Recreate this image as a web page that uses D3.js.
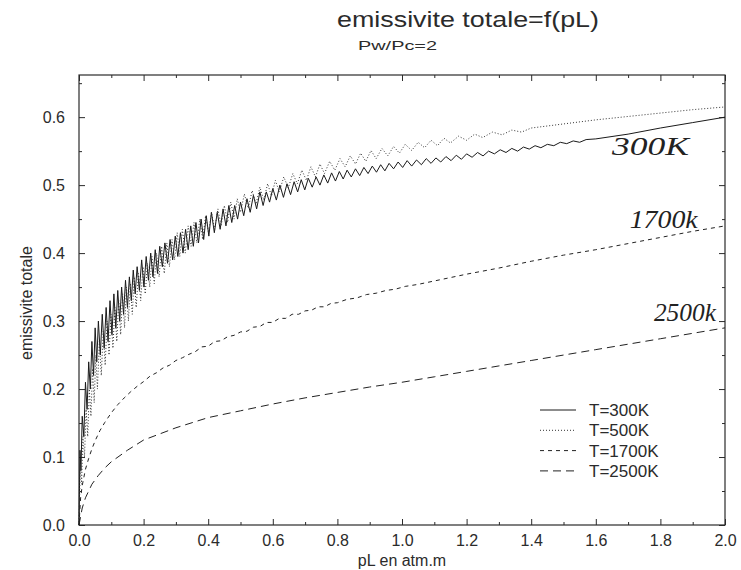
<!DOCTYPE html>
<html>
<head>
<meta charset="utf-8">
<script src="https://cdn.jsdelivr.net/npm/d3@7"></script>
<style>
  body { margin: 0; background: #fff; }
  svg { display: block; font-family: "Liberation Sans", Arial, sans-serif; }
</style>
</head>
<body>
<svg id="chart" width="741" height="570"></svg>
<script>
const xTicks = [0, 0.2, 0.4, 0.6, 0.8, 1.0, 1.2, 1.4, 1.6, 1.8, 2.0];
const xMinor = [0.1, 0.3, 0.5, 0.7, 0.9, 1.1, 1.3, 1.5, 1.7, 1.9];
const yTicks = [0, 0.1, 0.2, 0.3, 0.4, 0.5, 0.6];
const yMinor = [0.05, 0.15, 0.25, 0.35, 0.45, 0.55, 0.65];
const legendLabels = ["T=300K", "T=500K", "T=1700K", "T=2500K"];
const notes = ["300K", "1700k", "2500k"];

// T=300K, solid line (strong oscillations up to pL ~ 1.6)
const t300 = [
  [0,0],[0.003,0.11],[0.006,0.08],[0.010,0.16],[0.015,0.13],[0.020,0.21],[0.025,0.17],[0.030,0.24],
  [0.035,0.20],[0.040,0.27],[0.045,0.22],[0.050,0.29],[0.055,0.24],[0.060,0.30],[0.066,0.25],[0.072,0.31],
  [0.078,0.26],[0.084,0.32],[0.090,0.27],[0.096,0.33],[0.102,0.28],[0.108,0.34],[0.114,0.29],[0.120,0.345],
  [0.126,0.30],[0.132,0.35],[0.138,0.31],[0.144,0.36],[0.150,0.32],[0.156,0.365],[0.162,0.33],[0.168,0.375],
  [0.174,0.34],[0.180,0.38],[0.187,0.345],[0.194,0.39],[0.201,0.35],[0.208,0.395],[0.215,0.36],[0.222,0.40],
  [0.229,0.365],[0.236,0.405],[0.243,0.37],[0.250,0.41],[0.258,0.38],[0.266,0.415],[0.274,0.385],[0.282,0.42],
  [0.290,0.39],[0.298,0.425],[0.306,0.395],[0.314,0.43],[0.322,0.40],[0.330,0.435],[0.338,0.405],[0.346,0.44],
  [0.354,0.41],[0.362,0.445],[0.370,0.415],[0.378,0.45],[0.386,0.42],[0.394,0.455],[0.402,0.425],[0.410,0.46],
  [0.419,0.43],[0.428,0.46],[0.437,0.435],[0.446,0.465],[0.455,0.44],[0.464,0.47],[0.473,0.445],[0.482,0.47],
  [0.491,0.45],[0.500,0.475],[0.510,0.455],[0.520,0.48],[0.530,0.46],[0.540,0.485],[0.550,0.465],[0.560,0.49],
  [0.570,0.47],[0.580,0.49],[0.590,0.475],[0.600,0.495],[0.611,0.478],[0.622,0.50],[0.633,0.482],[0.644,0.502],
  [0.655,0.486],[0.666,0.505],[0.677,0.49],[0.688,0.508],[0.699,0.493],[0.710,0.51],[0.722,0.497],[0.734,0.512],
  [0.746,0.50],[0.758,0.515],[0.770,0.503],[0.782,0.518],[0.794,0.506],[0.806,0.52],[0.818,0.509],[0.830,0.522],
  [0.843,0.512],[0.856,0.524],[0.869,0.514],[0.882,0.526],[0.895,0.517],[0.908,0.528],[0.921,0.519],[0.934,0.53],
  [0.947,0.521],[0.960,0.532],[0.974,0.524],[0.988,0.534],[1.002,0.526],[1.016,0.536],[1.030,0.528],[1.045,0.537],
  [1.060,0.53],[1.075,0.539],[1.090,0.532],[1.105,0.54],[1.120,0.534],[1.136,0.542],[1.152,0.536],[1.168,0.544],
  [1.184,0.538],[1.200,0.546],[1.217,0.541],[1.234,0.548],[1.251,0.543],[1.268,0.55],[1.286,0.546],[1.304,0.552],
  [1.322,0.548],[1.340,0.554],[1.358,0.55],[1.376,0.556],[1.394,0.553],[1.412,0.558],[1.430,0.555],[1.450,0.56],
  [1.470,0.558],[1.490,0.563],[1.510,0.561],[1.530,0.565],[1.550,0.563],[1.570,0.567],[1.600,0.568],[1.700,0.575],
  [1.800,0.584],[1.900,0.592],[2.000,0.600]
];

// T=500K, dotted line
const t500 = [
  [0,0],[0.004,0.09],[0.008,0.06],[0.012,0.13],[0.017,0.10],[0.022,0.17],[0.027,0.13],[0.032,0.20],
  [0.037,0.16],[0.042,0.23],[0.047,0.18],[0.052,0.25],[0.057,0.20],[0.063,0.27],[0.069,0.22],[0.075,0.285],
  [0.081,0.235],[0.087,0.30],[0.093,0.25],[0.099,0.31],[0.105,0.26],[0.111,0.32],[0.117,0.27],[0.123,0.33],
  [0.129,0.28],[0.135,0.34],[0.141,0.29],[0.147,0.35],[0.153,0.30],[0.159,0.355],[0.165,0.31],[0.171,0.365],
  [0.177,0.32],[0.184,0.37],[0.191,0.33],[0.198,0.38],[0.205,0.34],[0.212,0.385],[0.219,0.35],[0.226,0.395],
  [0.233,0.355],[0.240,0.40],[0.248,0.365],[0.256,0.41],[0.264,0.37],[0.272,0.415],[0.280,0.38],[0.288,0.42],
  [0.296,0.39],[0.304,0.43],[0.312,0.395],[0.320,0.435],[0.329,0.40],[0.338,0.44],[0.347,0.41],[0.356,0.445],
  [0.365,0.415],[0.374,0.45],[0.383,0.42],[0.392,0.455],[0.401,0.43],[0.410,0.46],[0.420,0.435],[0.430,0.465],
  [0.440,0.44],[0.450,0.47],[0.460,0.445],[0.470,0.475],[0.480,0.45],[0.490,0.48],[0.500,0.46],[0.512,0.487],
  [0.524,0.466],[0.536,0.492],[0.548,0.472],[0.560,0.497],[0.572,0.478],[0.584,0.502],[0.596,0.484],[0.608,0.507],
  [0.620,0.49],[0.634,0.512],[0.648,0.496],[0.662,0.517],[0.676,0.502],[0.690,0.522],[0.704,0.507],[0.718,0.527],
  [0.732,0.512],[0.746,0.531],[0.760,0.517],[0.776,0.535],[0.792,0.522],[0.808,0.539],[0.824,0.527],[0.840,0.543],
  [0.856,0.531],[0.872,0.547],[0.888,0.535],[0.904,0.551],[0.920,0.539],[0.938,0.554],[0.956,0.543],[0.974,0.557],
  [0.992,0.547],[1.010,0.56],[1.030,0.551],[1.050,0.563],[1.070,0.555],[1.090,0.566],[1.110,0.558],[1.130,0.569],
  [1.150,0.562],[1.175,0.572],[1.200,0.566],[1.225,0.575],[1.250,0.57],[1.280,0.578],[1.310,0.574],[1.340,0.581],
  [1.370,0.578],[1.400,0.584],[1.450,0.587],[1.500,0.59],[1.600,0.596],[1.700,0.601],[1.800,0.606],[1.900,0.611],
  [2.000,0.615]
];

// T=1700K, short dashes
const t1700 = [
  [0,0],[0.005,0.04],[0.01,0.058],[0.02,0.082],[0.03,0.098],[0.04,0.112],[0.05,0.124],[0.065,0.139],
  [0.08,0.151],[0.1,0.165],[0.12,0.177],[0.14,0.187],[0.16,0.196],[0.18,0.204],[0.2,0.211],[0.22,0.219],
  [0.24,0.224],[0.26,0.231],[0.28,0.235],[0.3,0.242],[0.32,0.246],[0.34,0.251],[0.36,0.255],[0.38,0.262],
  [0.4,0.263],[0.42,0.27],[0.44,0.271],[0.46,0.277],[0.48,0.279],[0.5,0.284],[0.52,0.285],[0.54,0.291],
  [0.56,0.292],[0.58,0.298],[0.6,0.298],[0.62,0.304],[0.64,0.304],[0.66,0.31],[0.68,0.31],[0.7,0.315],
  [0.72,0.316],[0.74,0.321],[0.76,0.321],[0.78,0.326],[0.8,0.327],[0.83,0.332],[0.86,0.334],[0.89,0.339],
  [0.92,0.341],[0.95,0.345],[0.98,0.347],[1.01,0.351],[1.05,0.354],[1.1,0.359],[1.15,0.364],[1.2,0.369],
  [1.3,0.378],[1.4,0.388],[1.5,0.397],[1.6,0.405],[1.7,0.414],[1.8,0.423],[1.9,0.432],[2.0,0.44]
];

// T=2500K, long dashes
const t2500 = [
  [0,0],[0.01,0.025],[0.02,0.04],[0.04,0.06],[0.06,0.073],[0.08,0.084],[0.1,0.093],[0.15,0.11],
  [0.2,0.125],[0.3,0.143],[0.4,0.158],[0.5,0.168],[0.6,0.178],[0.7,0.187],[0.8,0.195],[0.9,0.203],
  [1.0,0.21],[1.1,0.218],[1.2,0.226],[1.3,0.234],[1.4,0.242],[1.5,0.25],[1.6,0.258],[1.7,0.266],
  [1.8,0.274],[1.9,0.282],[2.0,0.29]
];

const series = [
  { data: t300, dash: null, color: "#1a1a1a", width: 1 },
  { data: t500, dash: "1,2", color: "#333", width: 1 },
  { data: t1700, dash: "4,4", color: "#222", width: 1 },
  { data: t2500, dash: "8,5", color: "#222", width: 1 }
];

const svg = d3.select("#chart");
const ink = "#2b2b2b";

const x = d3.scaleLinear().domain([0, 2]).range([79, 725]);
const y = d3.scaleLinear().domain([0, 0.662]).range([525, 75]);

const fmt = d3.format(".1f");

// axes, all ticks pointing inward
function styleAxis(g) {
  g.select(".domain").remove();
  g.selectAll("line").attr("stroke", ink);
  g.selectAll("text").attr("fill", ink).attr("font-size", 16)
    .attr("font-family", "Liberation Sans, Arial, sans-serif");
}

svg.append("g").attr("transform", "translate(0,525)")
  .call(d3.axisBottom(x).tickValues(xTicks).tickFormat(fmt).tickSizeInner(-6).tickSizeOuter(0).tickPadding(10))
  .call(styleAxis);
svg.append("g").attr("transform", "translate(0,525)")
  .call(d3.axisBottom(x).tickValues(xMinor).tickFormat("").tickSizeInner(-3).tickSizeOuter(0))
  .call(styleAxis);
svg.append("g").attr("transform", "translate(0,75)")
  .call(d3.axisTop(x).tickValues(xTicks).tickFormat("").tickSizeInner(-6).tickSizeOuter(0))
  .call(styleAxis);
svg.append("g").attr("transform", "translate(0,75)")
  .call(d3.axisTop(x).tickValues(xMinor).tickFormat("").tickSizeInner(-3).tickSizeOuter(0))
  .call(styleAxis);

svg.append("g").attr("transform", "translate(79,0)")
  .call(d3.axisLeft(y).tickValues(yTicks).tickFormat(fmt).tickSizeInner(-6).tickSizeOuter(0).tickPadding(14))
  .call(styleAxis);
svg.append("g").attr("transform", "translate(79,0)")
  .call(d3.axisLeft(y).tickValues(yMinor).tickFormat("").tickSizeInner(-3).tickSizeOuter(0))
  .call(styleAxis);
svg.append("g").attr("transform", "translate(725,0)")
  .call(d3.axisRight(y).tickValues(yTicks).tickFormat("").tickSizeInner(-6).tickSizeOuter(0))
  .call(styleAxis);
svg.append("g").attr("transform", "translate(725,0)")
  .call(d3.axisRight(y).tickValues(yMinor).tickFormat("").tickSizeInner(-3).tickSizeOuter(0))
  .call(styleAxis);

// frame
svg.append("rect")
  .attr("x", x(0)).attr("y", y(0.662))
  .attr("width", x(2) - x(0)).attr("height", y(0) - y(0.662))
  .attr("fill", "none").attr("stroke", ink).attr("stroke-width", 1.2);

// curves
const line = d3.line().x(d => x(d[0])).y(d => y(d[1]));

svg.selectAll(".curve")
  .data(series)
  .enter()
  .append("path")
  .attr("class", "curve")
  .attr("fill", "none")
  .attr("stroke", d => d.color)
  .attr("stroke-width", d => d.width)
  .attr("stroke-dasharray", d => d.dash)
  .attr("d", d => line(d.data));

// legend
const legend = svg.selectAll(".legend")
  .data(series)
  .enter()
  .append("g")
  .attr("class", "legend")
  .attr("transform", (d, i) => `translate(540, ${410 + i * 20.3})`);

legend.append("line")
  .attr("x1", 0).attr("x2", 36)
  .attr("stroke", d => d.color)
  .attr("stroke-width", d => d.width)
  .attr("stroke-dasharray", d => d.dash);

legend.append("text")
  .attr("x", 49).attr("y", 6)
  .attr("font-size", 17)
  .attr("fill", ink)
  .text((d, i) => legendLabels[i]);

// titles
svg.append("text")
  .attr("x", 337).attr("y", 27)
  .attr("font-size", 22)
  .attr("textLength", 262)
  .attr("lengthAdjust", "spacingAndGlyphs")
  .attr("fill", ink)
  .text("emissivite totale=f(pL)");

svg.append("text")
  .attr("x", 358).attr("y", 50)
  .attr("font-size", 13)
  .attr("textLength", 79)
  .attr("lengthAdjust", "spacingAndGlyphs")
  .attr("fill", ink)
  .text("Pw/Pc=2");

svg.append("text")
  .attr("x", 402).attr("y", 566)
  .attr("text-anchor", "middle")
  .attr("font-size", 16)
  .attr("fill", ink)
  .text("pL en atm.m");

svg.append("text")
  .attr("transform", "translate(32,303) rotate(-90)")
  .attr("text-anchor", "middle")
  .attr("font-size", 16)
  .attr("fill", ink)
  .text("emissivite totale");

// handwritten annotations next to the curve ends
const noteSpots = [
  { x: 1.65, y: 0.545, w: 77 },
  { x: 1.705, y: 0.437, w: 68 },
  { x: 1.78, y: 0.30, w: 62 }
];
svg.selectAll(".note")
  .data(noteSpots)
  .enter()
  .append("text")
  .attr("class", "note")
  .attr("x", d => x(d.x))
  .attr("y", d => y(d.y))
  .attr("font-family", "Liberation Serif, serif")
  .attr("font-style", "italic")
  .attr("font-size", 26)
  .attr("textLength", d => d.w)
  .attr("lengthAdjust", "spacingAndGlyphs")
  .attr("fill", "#222")
  .text((d, i) => notes[i]);
</script>
</body>
</html>
